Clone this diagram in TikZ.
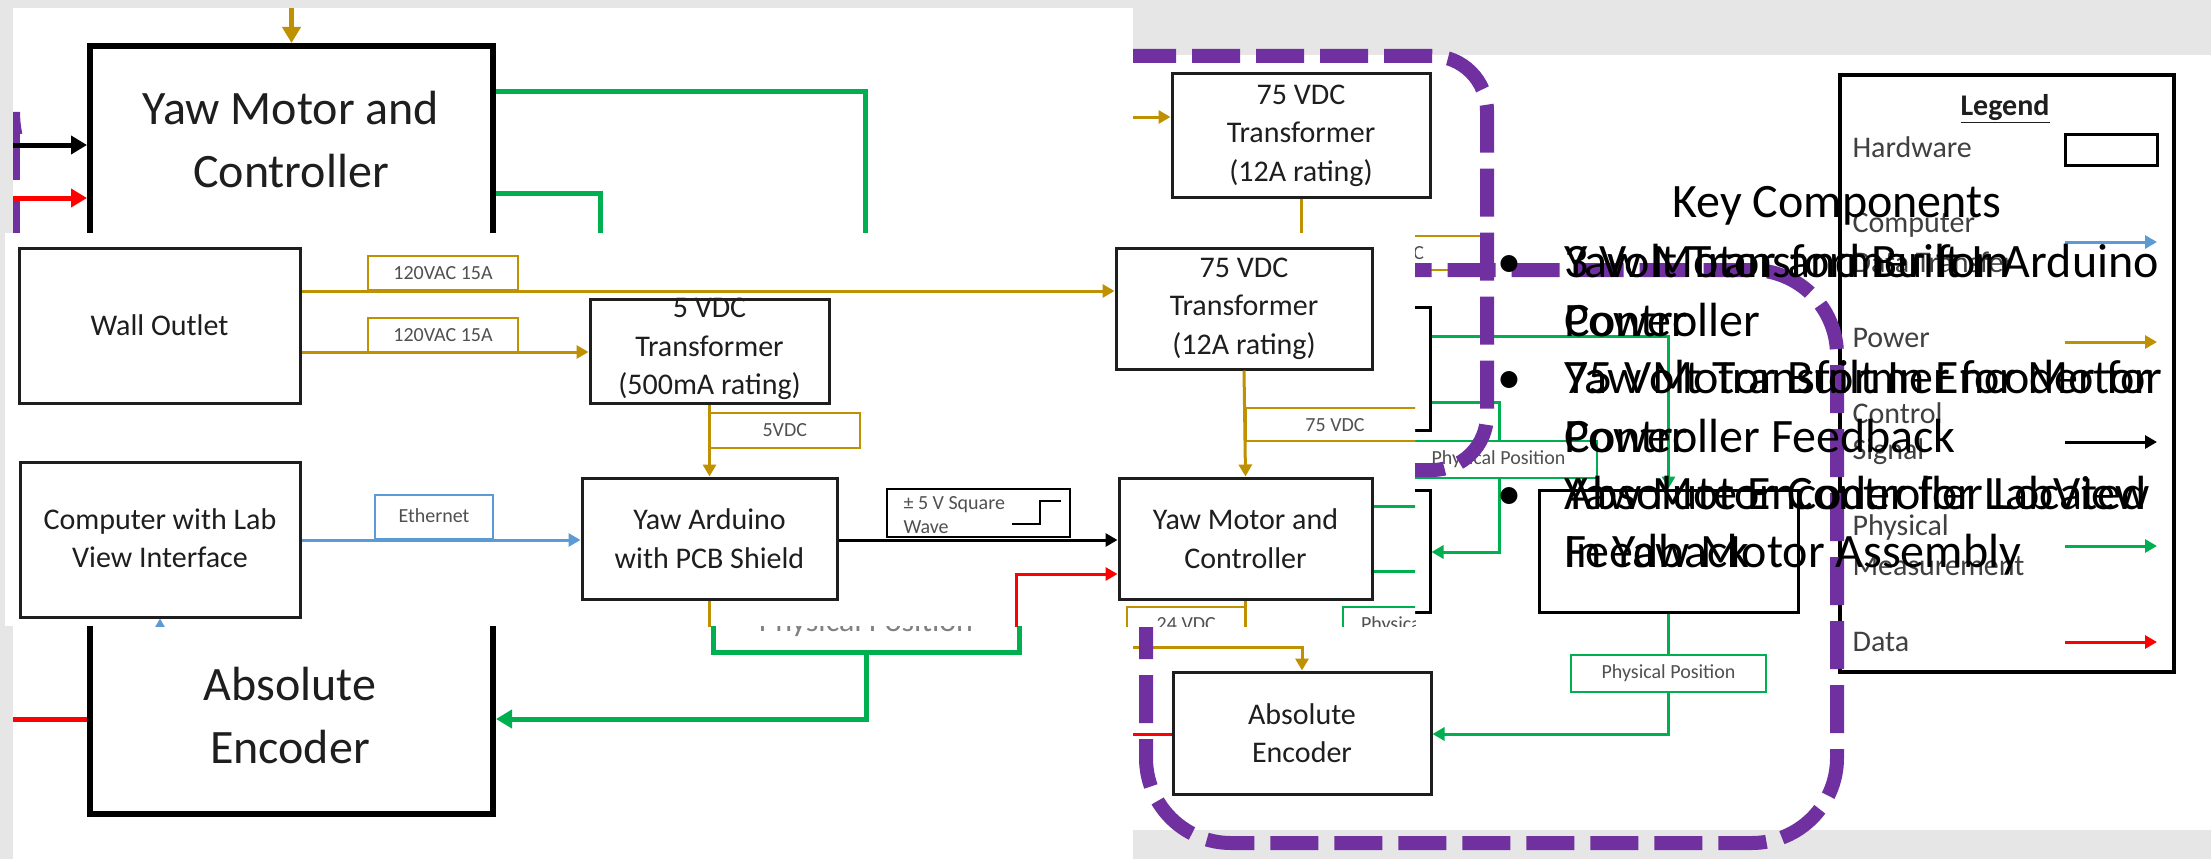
\documentclass[tikz,border=0pt]{standalone}
\usepackage{fontspec}
\setmainfont{Carlito}
\usetikzlibrary{arrows.meta,fit}
\newcommand{\fsz}[2]{\fontsize{#1}{#2}\selectfont}
\definecolor{bggray}{HTML}{E6E6E6}
\definecolor{pgold}{HTML}{BF9000}
\definecolor{pgreen}{HTML}{00B050}
\definecolor{pblue}{HTML}{5B9BD5}
\definecolor{pred}{HTML}{FF0000}
\definecolor{ppurple}{HTML}{7030A0}
\definecolor{lblgray}{HTML}{505050}
\definecolor{txtdark}{HTML}{1E1E1E}
\begin{document}
\begin{tikzpicture}[x=1pt,y=-1pt,
  box/.style={draw=txtdark, line width=3pt, fill=white, inner sep=0pt},
  boxtxt/.style={font=\fsz{30}{38.5}, align=center, text=txtdark},
  ebox/.style={draw=black, line width=3pt, fill=white, inner sep=0pt},
  bigbox/.style={draw=black, line width=6pt, inner sep=0pt},
  bigtxt/.style={font=\fsz{48}{63}, align=center, text=txtdark},
  lbl/.style={line width=2.5pt, fill=white, inner sep=0pt},
  lbltxt/.style={font=\fsz{20}{24}, text=lblgray},
  pw/.style={draw=pgold, line width=3pt},
  gr/.style={draw=pgreen, line width=3pt},
  bl/.style={draw=pblue, line width=3pt},
  rd/.style={draw=pred, line width=3pt},
  bk/.style={draw=black, line width=3pt},
  tip/.style={-{Triangle[length=12pt,width=13pt]}},
  btip/.style={-{Triangle[length=16pt,width=18pt]}},
  purp/.style={draw=ppurple, line width=14pt, dash pattern=on 48pt off 16pt},
  legtxt/.style={font=\fsz{30}{34}, text=txtdark!85, anchor=west},
  kctxt/.style={font=\fsz{48}{52}, text=black, anchor=base west}
]
\useasboundingbox (0,0) rectangle (2211,859);
\fill[bggray] (0,0) rectangle (2211,859);

% ---------------- big-scale layer (left slide) ----------------
\begin{scope}
\clip (13,8) rectangle (1133,859);
\fill[white] (13,8) rectangle (1133,859);
\fill[ppurple] (13,132) rectangle (20,180);
\fill[ppurple] (13,197) rectangle (20,233);
\draw[ppurple, line width=14pt] (13,125) -- (13,112) arc[start angle=180, end angle=168, radius=110];
\node[bigbox, fit={(90,46) (493,420)}] (bigyaw) {};
\node[bigtxt] (bigyawt) at (291,140) {Yaw Motor and\\Controller};
\coordinate (gtop) at (291.5,8);
\draw[draw=pgold, line width=5pt, btip] (gtop) -- (bigyaw.north);
\coordinate (bkin) at (13,145);
\draw[draw=black, line width=5pt, btip] (bkin) -- (bkin -| bigyaw.west);
\coordinate (rdin) at (13,198);
\draw[draw=pred, line width=5pt, btip] (rdin) -- (rdin -| bigyaw.west);
\coordinate (g1) at (865,91); \coordinate (g1b) at (865,300);
\draw[draw=pgreen, line width=5pt] (g1 -| bigyaw.east) -- (g1) -- (g1b);
\coordinate (g2) at (600,193); \coordinate (g2b) at (600,300);
\draw[draw=pgreen, line width=5pt] (g2 -| bigyaw.east) -- (g2) -- (g2b);
\node[bigbox, fit={(90,560) (493,814)}] (bigenc) {};
\node[bigtxt] (bigenct) at (290,715) {Absolute\\Encoder};
\coordinate (r2) at (13,719);
\draw[draw=pred, line width=5pt] (r2) -- (r2 -| bigenc.west);
\node[font=\fsz{32}{36}, text=gray, anchor=base] (bigpp) at (866,631) {Physical Position};
\coordinate (bk1) at (713,600); \coordinate (bk2) at (713,652);
\coordinate (bk3) at (1019,652); \coordinate (bk4) at (1019,600);
\coordinate (bk5) at (866,652); \coordinate (bk6) at (866,719);
\draw[draw=pgreen, line width=5pt] (bk1) -- (bk2) -- (bk3) -- (bk4);
\draw[draw=pgreen, line width=5pt, btip] (bk5) -- (bk6) -- (bk6 -| bigenc.east);
\end{scope}

% ---------------- right slide ----------------
\fill[white] (1133,55) rectangle (2211,830);
\begin{scope}
\clip (1133,0) rectangle (2211,859);
\node[box, fit={(1172,74) (1430,197)}] (t75r) {};
\node[boxtxt] (t75rt) at (t75r.center) {75 VDC\\Transformer\\(12A rating)};
\node[ebox, fit={(1172,307) (1430,430)}] (yawr) {};
\node[ebox, fit={(1172,490) (1430,612)}] (box2r) {};
\node[ebox, fit={(1539,490) (1798,612)}] (boxm) {};
\node[box, fit={(1173,672) (1431,794)}] (encr) {};
\node[boxtxt] (encrt) at (encr.center) {Absolute\\Encoder};
\node[lbl, draw=pgold, fit={(1301,236) (1488,270)}] (l75r) {};
\node[lbltxt] (l75rt) at (l75r.center) {75 VDC};
\node[lbl, draw=pgreen, fit={(1400,441) (1597,478)}] (ppr) {};
\node[lbltxt] (pprt) at (ppr.center) {Physical Position};
\node[lbl, draw=pgreen, fit={(1571,655) (1766,692)}] (ppr2) {};
\node[lbltxt] (ppr2t) at (ppr2.center) {Physical Position};
\coordinate (gin) at (1133,117);
\draw[pw, tip] (gin) -- (gin -| t75r.west);
\draw[pw, tip] (t75r.south) -- (yawr.north);
\coordinate (gr1) at (1668.5,336);
\draw[gr, tip] (gr1 -| yawr.east) -- (gr1) -- (boxm.north);
\coordinate (gr2) at (1499,402);
\draw[gr] (gr2 -| yawr.east) -- (gr2) -- (gr2 |- ppr.north);
\coordinate (gr3) at (1499,552);
\draw[gr, tip] (gr2 |- ppr.south) -- (gr3) -- (gr3 -| box2r.east);
\draw[gr] (boxm.south) -- (ppr2.north);
\coordinate (gr4) at (1668.5,734);
\draw[gr, tip] (ppr2.south) -- (gr4) -- (gr4 -| encr.east);
\coordinate (gpe) at (1133,647);
\draw[pw, tip] (gpe) -- (gpe -| encr.north) -- (encr.north);
\coordinate (rpe) at (1133,734);
\draw[rd] (rpe) -- (rpe -| encr.west);
% legend
\node[draw=black, line width=3.5pt, inner sep=0pt, fit={(1840,75) (2174,672)}] (legend) {};
\node[font=\bfseries\fsz{30}{34}, text=txtdark] (legt) at (2005,109) {\underline{Legend}};
\node[legtxt] (lhw) at (1849,147) {Hardware};
\node[ebox, fit={(2065,134) (2157,165)}] (hwbox) {};
\node[legtxt] (lcp) at (1849,225) {Computer};
\node[legtxt] (lcp2) at (1849,262) {Data Transfer};
\node[legtxt] (lpw) at (1849,338) {Power};
\node[legtxt] (lcs) at (1849,413) {Control};
\node[legtxt] (lcs2) at (1849,452) {Signal};
\node[legtxt] (lpm) at (1849,527) {Physical};
\node[legtxt] (lpm2) at (1849,566) {Measurement};
\node[legtxt] (lda) at (1849,642) {Data};
\coordinate (la1) at (2065,242); \coordinate (la1e) at (2157,242);
\draw[bl, tip] (la1) -- (la1e);
\coordinate (la2) at (2065,342); \coordinate (la2e) at (2157,342);
\draw[pw, tip] (la2) -- (la2e);
\coordinate (la3) at (2065,442); \coordinate (la3e) at (2157,442);
\draw[bk, tip] (la3) -- (la3e);
\coordinate (la4) at (2065,546); \coordinate (la4e) at (2157,546);
\draw[gr, tip] (la4) -- (la4e);
\coordinate (la5) at (2065,642); \coordinate (la5e) at (2157,642);
\draw[rd, tip] (la5) -- (la5e);
% purple dashed groups
\draw[purp, rounded corners=55pt] (900,56) rectangle (1487,470);
\draw[purp, rounded corners=85pt] (1146,270) rectangle (1837,843);
\end{scope}

% ---------------- middle strip ----------------
\begin{scope}
\clip (5,233) rectangle (1415,626);
\fill[white] (5,233) rectangle (1415,626);
\node[box, fit={(19,248) (300,403)}] (wall) {};
\node[boxtxt] (wallt) at (wall.center) {Wall Outlet};
\node[box, fit={(590,299) (829,403)}] (t5) {};
\node[boxtxt] (t5t) at (709.5,349) {5 VDC\\Transformer\\(500mA rating)};
\node[box, fit={(582,478) (837,599)}] (ard) {};
\node[boxtxt] (ardt) at (ard.center) {Yaw Arduino\\with PCB Shield};
\node[box, fit={(20,462) (300,617)}] (comp) {};
\node[boxtxt] (compt) at (160,538) {Computer with Lab\\View Interface};
\node[box, fit={(1116,248) (1372,369)}] (t75s) {};
\node[boxtxt] (t75st) at (t75s.center) {75 VDC\\Transformer\\(12A rating)};
\node[box, fit={(1119,478) (1372,599)}] (yaws) {};
\node[boxtxt] (yawst) at (yaws.center) {Yaw Motor and\\Controller};
\node[lbl, draw=pgold, fit={(368,256) (518,290)}] (l120a) {};
\node[lbltxt] (l120at) at (l120a.center) {120VAC 15A};
\node[lbl, draw=pgold, fit={(368,318) (518,352)}] (l120b) {};
\node[lbltxt] (l120bt) at (l120b.center) {120VAC 15A};
\node[lbl, draw=pgold, fit={(709.5,413) (860,448)}] (l5) {};
\node[lbltxt] (l5t) at (l5.center) {5VDC};
\node[lbl, draw=pblue, fit={(375,495) (493,539)}] (leth) {};
\node[lbltxt] (letht) at (434,516) {Ethernet};
\node[lbl, draw=black, fit={(887,489) (1070,537)}] (lsq) {};
\node[font=\fsz{20}{24}, text=lblgray, anchor=west, align=left] (lsqt) at (900,515) {± 5 V Square\\Wave};
\draw[line width=2.5pt] (1012,524) -- (1040,524) -- (1040,501) -- (1061,501);
\node[lbl, draw=pgold, fit={(1245.5,408) (1450,441)}] (l75s) {};
\node[lbltxt] (l75st) at (1335,425) {75 VDC};
\node[lbl, draw=pgold, fit={(1127,607) (1245.5,641)}] (l24) {};
\node[lbltxt] (l24t) at (l24.center) {24 VDC};
\node[lbl, draw=pgreen, fit={(1343,607) (1513,643)}] (lpps) {};
\node[lbltxt] (lppst) at (lpps.center) {Physical Position};
\coordinate (w1) at (0,291); \coordinate (w2) at (0,352);
\draw[pw, tip] (w1 -| wall.east) -- (w1 -| t75s.west);
\draw[pw, tip] (w2 -| wall.east) -- (w2 -| t5.west);
\draw[pw, tip] (t5.south) -- (ard.north);
\coordinate (e1) at (0,540);
\draw[bl, tip] (e1 -| comp.east) -- (e1 -| ard.west);
\draw[bk, tip] (e1 -| ard.east) -- (e1 -| yaws.west);
\coordinate (rs1) at (1016,640); \coordinate (rs2) at (1016,574);
\draw[rd, tip] (rs1) -- (rs2) -- (rs2 -| yaws.west);
\draw[pw, tip] (t75s.south) -- (yaws.north);
\coordinate (ab) at (709.5,640);
\draw[pw] (ard.south) -- (ab);
\coordinate (y24) at (1245.5,640);
\draw[pw] (yaws.south) -- (y24);
\coordinate (sg1) at (1420,506); \coordinate (sg2) at (1420,571);
\draw[gr] (sg1 -| yaws.east) -- (sg1);
\draw[gr] (sg2 -| yaws.east) -- (sg2);
\coordinate (blb) at (160,640);
\draw[bl, tip] (blb) -- (comp.south);
\end{scope}

% ---------------- key components overlay ----------------
\node[font=\fsz{48}{52}, anchor=base] (kc) at (1837,217) {Key Components};
\node[font=\fsz{48}{52}, anchor=base] (b1) at (1509,277) {•};
\node[font=\fsz{48}{52}, anchor=base] (b2) at (1509,393) {•};
\node[font=\fsz{48}{52}, anchor=base] (b3) at (1509,509) {•};
\node[kctxt] (x1) at (1561,277) {3 Volt Transformer for Arduino};
\node[kctxt] (x2) at (1561,336) {Power};
\node[kctxt] (x3) at (1561,393) {75 Volt Transformer for Motor};
\node[kctxt] (x4) at (1561,452) {Power};
\node[kctxt] (x5) at (1561,509) {Yaw Motor Controller Located};
\node[kctxt] (x6) at (1561,567) {In Yaw Motor Assembly};
\node[kctxt] (y1) at (1561,277) {Yaw Motor and Built In};
\node[kctxt] (y2) at (1561,336) {Controller};
\node[kctxt] (y3) at (1561,393) {Yaw Motor Built In Encoder for};
\node[kctxt] (y4) at (1561,452) {Controller Feedback};
\node[kctxt] (y5) at (1561,509) {Absolute Encoder for LabView};
\node[kctxt] (y6) at (1561,567) {Feedback};
\end{tikzpicture}
\end{document}
